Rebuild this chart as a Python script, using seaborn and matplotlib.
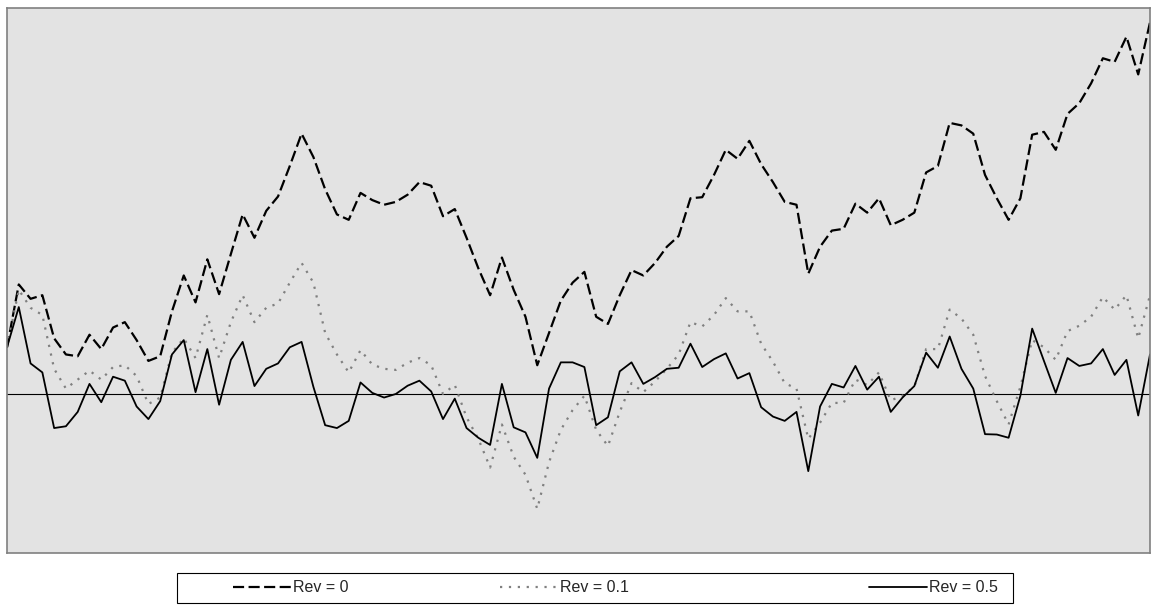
import numpy as np
import pandas as pd
import matplotlib
matplotlib.use("Agg")
import matplotlib.pyplot as plt
from matplotlib.patches import Rectangle
import seaborn as sns

# cumulative paths (arbitrary units, 0 = start level)
rev_0 = [13.0, 30.5, 26.5, 27.5, 15.5, 11.0, 10.5, 16.5, 12.5, 18.5, 20.0, 15.0, 9.2, 10.5, 23.0, 33.0,
         25.5, 37.5, 27.8, 39.0, 50.0, 43.5, 51.0, 55.0, 63.5, 72.5,
         66.0, 57.0, 50.0, 48.5, 56.0, 54.0, 52.7, 53.5, 55.5, 59.0, 58.0, 49.5, 51.5, 43.5, 35.0, 27.5,
         38.0, 29.0, 21.5, 8.0, 17.0, 26.0, 31.0,
         34.0, 21.5, 19.5, 27.5, 34.5, 33.0, 36.5, 41.0, 44.0, 54.5, 54.8, 61.0, 68.0, 65.5, 70.5, 64.0,
         59.0, 53.5, 52.7, 33.5, 41.0, 45.5, 46.0, 53.0,
         50.5, 54.5, 47.0, 48.5, 50.5, 61.7, 63.5, 75.5, 74.8, 72.5, 61.0, 54.5, 48.5, 54.5, 72.2, 73.0,
         68.0, 78.0, 81.0, 86.5, 93.5, 92.5, 99.5, 89.0, 103.5]
rev_01 = [13.0, 29.0, 24.0, 22.0, 7.0, 1.5, 4.0, 6.5, 4.0, 7.5, 8.0, 5.0, -2.8, -1.0, 11.5, 15.5,
          10.0, 22.0, 10.0, 20.0, 27.5, 20.0, 24.0, 25.2, 31.0, 36.5,
          31.0, 17.0, 11.0, 6.0, 12.2, 8.2, 7.0, 6.7, 8.7, 10.0, 8.0, 0.0, 2.5, -6.5, -12.5, -20.5,
          -8.5, -17.5, -22.5, -32.0, -19.0, -10.0, -4.5,
          -0.5, -10.0, -14.5, -5.0, 3.0, 0.5, 3.5, 7.0, 11.0, 20.0, 18.8, 22.0, 26.7, 23.0, 23.0, 14.0,
          9.0, 3.0, 1.5, -12.5, -8.0, -2.5, -2.5, 4.0,
          2.5, 6.0, -1.8, -0.5, 2.0, 12.5, 12.5, 23.5, 21.0, 16.5, 5.0, -2.0, -8.5, 2.0, 15.0, 13.0,
          9.5, 17.5, 19.0, 21.5, 27.0, 23.5, 27.5, 15.5, 27.5]
rev_05 = [13.0, 24.2, 8.5, 6.0, -9.5, -9.0, -5.0, 2.8, -2.3, 4.8, 3.7, -3.5, -7.0, -2.0, 11.0, 15.0,
          0.5, 12.5, -3.0, 9.5, 14.5, 2.2, 7.0, 8.5, 13.0, 14.5,
          2.0, -8.7, -9.5, -7.5, 3.2, 0.3, -1.0, 0.0, 2.3, 3.7, 0.7, -7.0, -1.3, -9.5, -12.2, -14.2,
          2.8, -9.3, -10.7, -17.8, 1.5, 8.8, 8.8,
          7.5, -8.7, -6.5, 6.3, 8.8, 2.8, 4.7, 7.0, 7.3, 14.0, 7.5, 9.7, 11.3, 4.3, 5.8, -3.7,
          -6.3, -7.5, -5.0, -21.5, -3.5, 2.8, 1.8, 7.8,
          1.2, 4.8, -5.0, -1.0, 2.2, 11.5, 7.3, 16.0, 7.0, 1.5, -11.2, -11.3, -12.2, -0.5, 18.2, 9.2,
          0.3, 10.0, 7.8, 8.5, 12.5, 5.3, 9.5, -6.0, 11.0]
labels = ["Rev = 0", "Rev = 0.1", "Rev = 0.5"]

t = np.arange(len(rev_0))

sns.set_theme(style="white", rc={"axes.facecolor": "#e3e3e3",
                                 "axes.edgecolor": "#808080",
                                 "axes.linewidth": 1.2})
plt.rcParams['font.family'] = ['Liberation Sans', 'DejaVu Sans']

fig = plt.figure(figsize=(11.59, 6.14), dpi=100)
ax = fig.add_axes([7 / 1159, 1 - 553 / 614, 1143 / 1159, 545 / 614])

ax.axhline(0, color="black", lw=0.8, zorder=1)
sns.lineplot(x=t, y=rev_0, ax=ax, color="black", lw=1.6,
             linestyle=(0, (5, 2)), label=labels[0])
sns.lineplot(x=t, y=rev_01, ax=ax, color="#808080", lw=1.6,
             linestyle=(0, (1, 3)), label=labels[1])
sns.lineplot(x=t, y=rev_05, ax=ax, color="black", lw=1.3, label=labels[2])

ax.set_xlim(0, len(t) - 1)
ax.set_ylim(-44.3, 107.5)
ax.set_xticks([])
ax.set_yticks([])
ax.set_xlabel("")
ax.set_ylabel("")

# legend box at the bottom, one entry at a time so the spacing matches
handles, lbls = ax.get_legend_handles_labels()
ax.get_legend().remove()
fig.patches.append(Rectangle((177 / 1159, 1 - 603 / 614), 836 / 1159, 30 / 614,
                             transform=fig.transFigure, facecolor="white",
                             edgecolor="black", lw=0.8))
for h, lab, x0 in zip(handles, lbls, [233, 500, 869]):
    fig.legend([h], [lab], frameon=False, loc="center left",
               bbox_to_anchor=(x0 / 1159, 1 - 588 / 614),
               borderaxespad=0, borderpad=0, fontsize=11.5, handlelength=3.6,
               handletextpad=0.15)

fig.savefig("out.png", dpi=100)
